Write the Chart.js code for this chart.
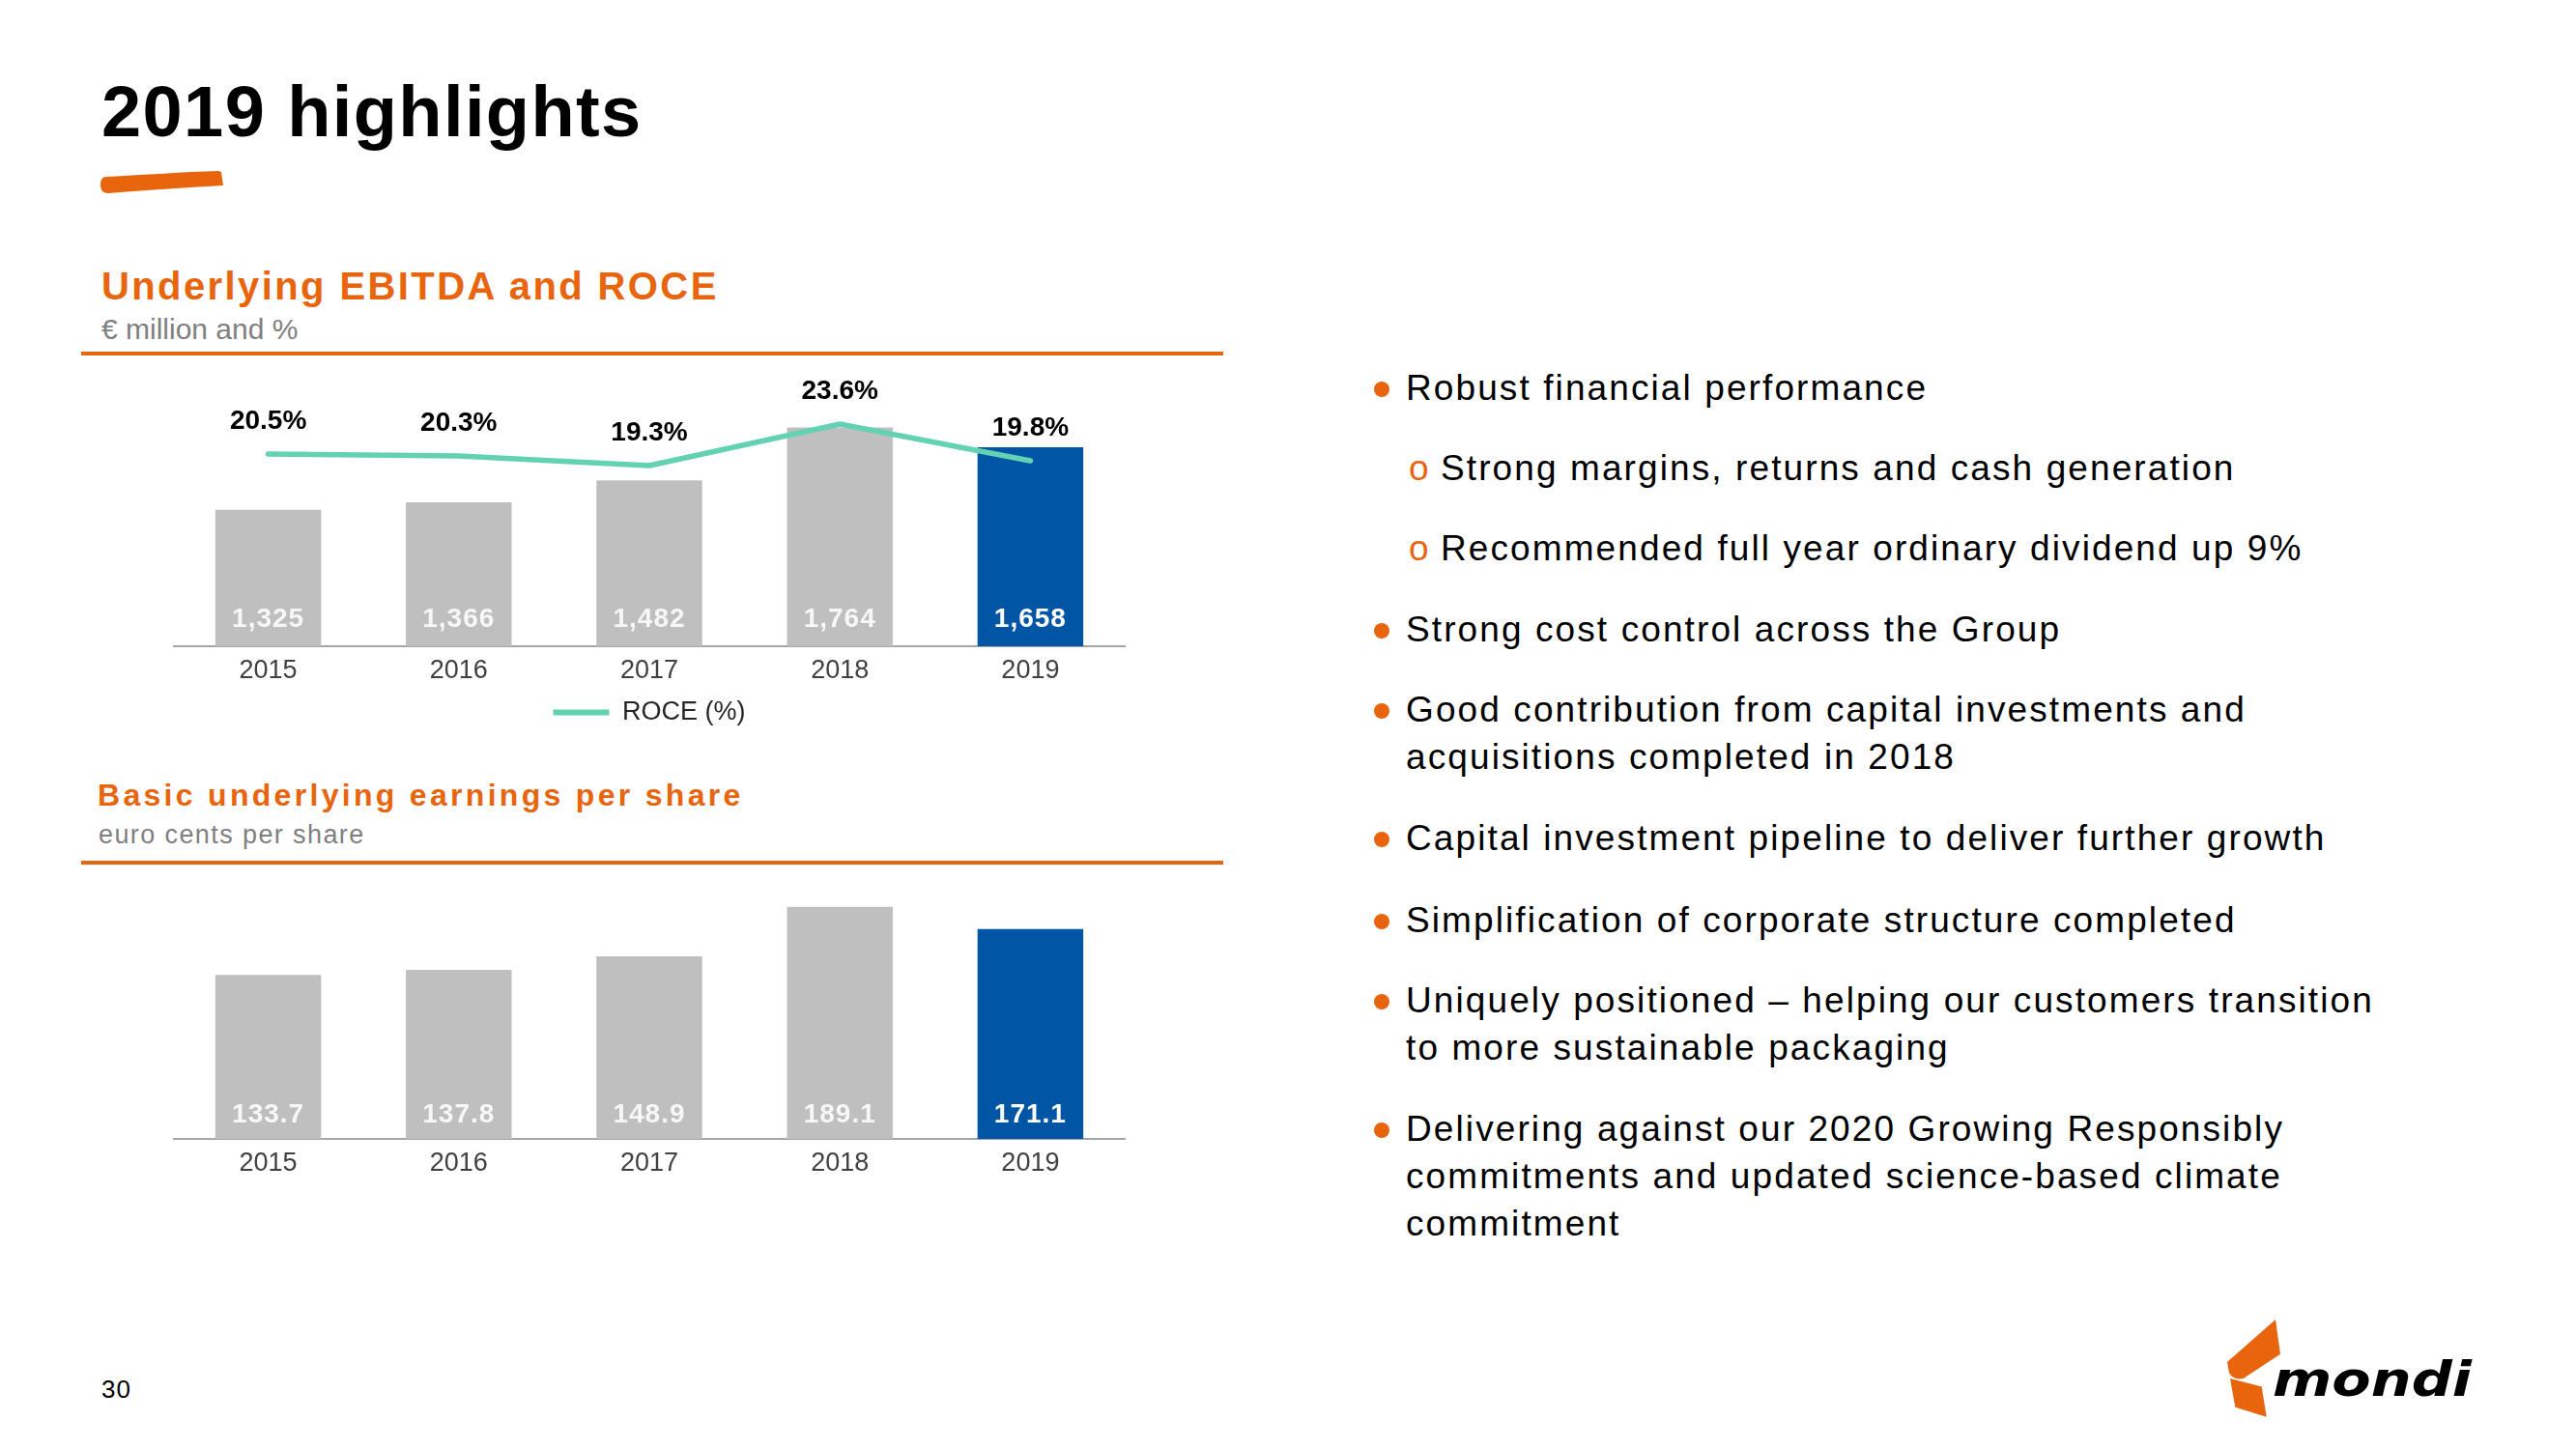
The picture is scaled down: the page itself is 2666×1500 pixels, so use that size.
<!DOCTYPE html>
<html><head><meta charset="utf-8">
<script src="https://cdn.jsdelivr.net/npm/chart.js@4"></script>
<style>
html,body{margin:0;padding:0;background:#fff;}
body{width:2666px;height:1500px;position:relative;overflow:hidden;font-family:'Liberation Sans',Arial,sans-serif;}
.t{position:absolute;white-space:nowrap;line-height:1;}
.p{position:absolute;white-space:nowrap;font-size:37px;line-height:49.4px;letter-spacing:2.1px;color:#000;}
.dot{position:absolute;width:16px;height:16px;border-radius:50%;background:#E8650E;}
.sub{position:absolute;font-size:37px;line-height:49.4px;color:#E8650E;}
.rule{position:absolute;left:84px;width:1182px;height:4px;background:#E8650E;}
canvas{position:absolute;}
</style></head><body>

<div class="t" style="left:105px;top:79.4px;font-size:74px;font-weight:bold;letter-spacing:1.4px;color:#000;">2019 highlights</div>
<svg style="position:absolute;left:100px;top:172px" width="135" height="32" viewBox="0 0 135 32">
  <path d="M10,11 C50,9 90,6 126,5 L129,6 L131,20 C90,22 50,25 12,28 C6,28 4,24 4,19 C4,14 6,11 10,11 Z" fill="#E8650E"/>
</svg>

<div class="t" style="left:105px;top:276px;font-size:40px;font-weight:bold;letter-spacing:2.4px;color:#E8650E;">Underlying EBITDA and ROCE</div>
<div class="t" style="left:105px;top:325.5px;font-size:30px;color:#7F7F7F;">€ million and %</div>
<div class="rule" style="top:364px"></div>

<div class="t" style="left:101px;top:807px;font-size:32px;font-weight:bold;letter-spacing:3.3px;color:#E8650E;">Basic underlying earnings per share</div>
<div class="t" style="left:102px;top:850.8px;font-size:27px;letter-spacing:1.4px;color:#7F7F7F;">euro cents per share</div>
<div class="rule" style="top:891px"></div>

<canvas id="c1" width="986" height="402" style="left:179px;top:377px;width:986px;height:402px"></canvas>
<canvas id="c2" width="986" height="304" style="left:179px;top:925px;width:986px;height:304px"></canvas>

<div class="dot" style="left:1422px;top:395.4px"></div>
<div class="p" style="left:1455px;top:376.9px">Robust financial performance</div>
<div class="sub" style="left:1458px;top:460.1px">o</div>
<div class="p" style="left:1491px;top:460.1px">Strong margins, returns and cash generation</div>
<div class="sub" style="left:1458px;top:543.4px">o</div>
<div class="p" style="left:1491px;top:543.4px">Recommended full year ordinary dividend up 9%</div>
<div class="dot" style="left:1422px;top:645.2px"></div>
<div class="p" style="left:1455px;top:626.7px">Strong cost control across the Group</div>
<div class="dot" style="left:1422px;top:728.4px"></div>
<div class="p" style="left:1455px;top:709.9px">Good contribution from capital investments and<br>acquisitions completed in 2018</div>
<div class="dot" style="left:1422px;top:861.2px"></div>
<div class="p" style="left:1455px;top:842.7px">Capital investment pipeline to deliver further growth</div>
<div class="dot" style="left:1422px;top:946.2px"></div>
<div class="p" style="left:1455px;top:927.7px">Simplification of corporate structure completed</div>
<div class="dot" style="left:1422px;top:1029.4px"></div>
<div class="p" style="left:1455px;top:1010.9px">Uniquely positioned – helping our customers transition<br>to more sustainable packaging</div>
<div class="dot" style="left:1422px;top:1162.1px"></div>
<div class="p" style="left:1455px;top:1143.6px">Delivering against our 2020 Growing Responsibly<br>commitments and updated science-based climate<br>commitment</div>

<div class="t" style="left:105px;top:1425px;font-size:26px;letter-spacing:1px;color:#000;">30</div>

<svg style="position:absolute;left:2290px;top:1355px" width="290" height="125" viewBox="0 0 290 125">
  <path d="M65,11 L70,46.7 L31.7,72 Q21,74 17,66 L15,55 Z" fill="#E8650E"/>
  <path d="M18,72 L50.7,80.5 L55.7,111.7 L23.3,101.7 Z" fill="#E8650E"/>
  <text x="62" y="90" font-family="DejaVu Sans" font-weight="bold" font-style="italic" font-size="50" textLength="206" lengthAdjust="spacingAndGlyphs" fill="#000">mondi</text>
</svg>

<script>
// ---- data ----
const years = ['2015', '2016', '2017', '2018', '2019'];
const ebitda = [1325, 1366, 1482, 1764, 1658];
const roce = [20.5, 20.3, 19.3, 23.6, 19.8];
const eps = [133.7, 137.8, 148.9, 189.1, 171.1];
const ebitdaRange = [600, 2100];
const roceRange = [0.6, 29.8];
const epsRange = [0, 200];

const FONT = "'Liberation Sans', Arial, sans-serif";
const GRAY = '#BFBFBF', BLUE = '#0055A5', TEAL = '#62D2B2';
const barColors = years.map((y, i) => i === years.length - 1 ? BLUE : GRAY);

const labelPlugin = {
  id: 'valueLabels',
  afterDatasetsDraw(chart, args, opts) {
    const ctx = chart.ctx;
    const bottom = chart.chartArea.bottom;
    chart.data.datasets.forEach((ds, i) => {
      const meta = chart.getDatasetMeta(i);
      meta.data.forEach((el, j) => {
        ctx.save();
        ctx.textAlign = 'center';
        ctx.textBaseline = 'alphabetic';
        if (meta.type === 'line') {
          ctx.font = 'bold 28px ' + FONT;
          ctx.fillStyle = '#000';
          ctx.fillText(ds.data[j].toFixed(1) + '%', el.x, el.y - 26);
        } else {
          ctx.font = 'bold 28px ' + FONT;
          try { ctx.letterSpacing = '1px'; } catch (e) {}
          ctx.fillStyle = j === ds.data.length - 1 ? '#FFFFFF' : 'rgba(255,255,255,0.88)';
          ctx.fillText(opts.fmt(ds.data[j]), el.x, bottom - opts.off);
        }
        ctx.restore();
      });
    });
  }
};

const legendFix = {
  id: 'legendFix',
  beforeLayout(chart) {
    const lg = chart.legend;
    if (lg && !lg._fixed) {
      const f = lg.fit.bind(lg);
      lg.fit = function () { f(); this.height = 60; };
      lg._fixed = true;
    }
  }
};

const xAxis = {
  grid: { display: false },
  border: { display: true, color: '#A6A6A6', width: 2 },
  ticks: { font: { size: 27, family: FONT }, color: '#404040', padding: 1 },
  afterFit(s) { s.height = 50; }
};

new Chart(document.getElementById('c1'), {
  data: {
    labels: years,
    datasets: [
      { type: 'line', label: 'ROCE (%)', data: roce, yAxisID: 'y2', borderColor: TEAL, backgroundColor: TEAL,
        borderWidth: 5.5, pointRadius: 0, tension: 0, borderCapStyle: 'round', borderJoinStyle: 'round', order: 0 },
      { type: 'bar', label: 'Underlying EBITDA', data: ebitda, yAxisID: 'y', backgroundColor: barColors,
        barPercentage: 0.555, categoryPercentage: 1, order: 1 }
    ]
  },
  options: {
    responsive: false, animation: false, layout: { padding: 0 },
    scales: {
      x: xAxis,
      y: { display: false, min: ebitdaRange[0], max: ebitdaRange[1] },
      y2: { display: false, min: roceRange[0], max: roceRange[1] }
    },
    plugins: {
      tooltip: { enabled: false },
      valueLabels: { fmt: v => v.toLocaleString('en-US'), off: 20 },
      legend: {
        position: 'bottom',
        labels: {
          boxWidth: 58, boxHeight: 6, padding: 5, color: '#262626',
          font: { size: 27, family: FONT },
          generateLabels(chart) {
            return Chart.defaults.plugins.legend.labels.generateLabels(chart)
              .filter(l => l.datasetIndex === 0)
              .map(l => Object.assign(l, { lineWidth: 0, fillStyle: TEAL, strokeStyle: TEAL }));
          }
        }
      }
    }
  },
  plugins: [labelPlugin, legendFix]
});

new Chart(document.getElementById('c2'), {
  type: 'bar',
  data: {
    labels: years,
    datasets: [
      { label: 'Basic underlying EPS', data: eps, backgroundColor: barColors, barPercentage: 0.555, categoryPercentage: 1 }
    ]
  },
  options: {
    responsive: false, animation: false, layout: { padding: 0 },
    scales: {
      x: xAxis,
      y: { display: false, min: epsRange[0], max: epsRange[1] }
    },
    plugins: {
      tooltip: { enabled: false },
      legend: { display: false },
      valueLabels: { fmt: v => v.toFixed(1), off: 17.5 }
    }
  },
  plugins: [labelPlugin]
});
</script>
</body></html>
